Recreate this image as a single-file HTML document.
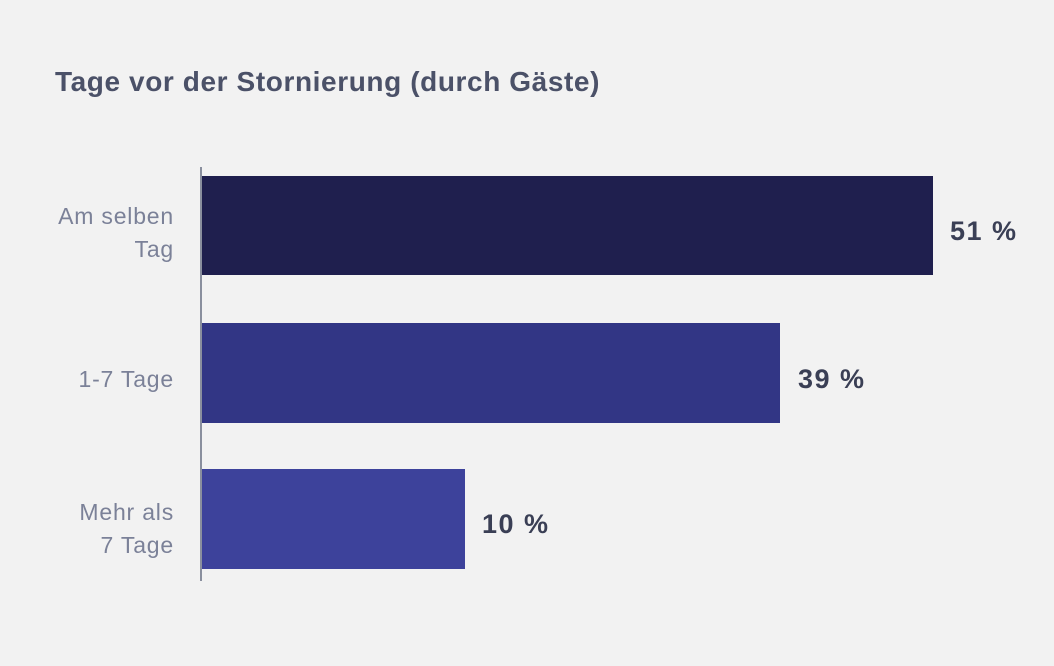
<!DOCTYPE html>
<html><head><meta charset="utf-8"><style>
html,body{margin:0;padding:0;}
body{width:1054px;height:666px;background:#f2f2f2;position:relative;overflow:hidden;font-family:"Liberation Sans",sans-serif;}
.t{position:absolute;left:55px;top:66px;font-size:28px;font-weight:bold;color:#4b5168;letter-spacing:0.6px;white-space:nowrap;}
.ax{position:absolute;left:200px;top:167px;width:2px;height:414px;background:#8a8f9e;}
.b{position:absolute;left:202px;}
.l{position:absolute;right:880px;text-align:right;font-size:23px;color:#7b8198;line-height:33px;letter-spacing:0.8px;white-space:nowrap;}
.v{position:absolute;font-size:27px;font-weight:bold;color:#3a3f55;letter-spacing:1.5px;white-space:nowrap;}
</style></head><body>
<div class="t">Tage vor der Stornierung (durch Gäste)</div>
<div class="ax"></div>
<div class="b" style="top:176px;width:731px;height:99px;background:#1f1f4e"></div>
<div class="b" style="top:323px;width:578px;height:100px;background:#323685"></div>
<div class="b" style="top:469px;width:263px;height:100px;background:#3d429b"></div>
<div class="l" style="top:200px">Am selben<br>Tag</div>
<div class="l" style="top:363px">1-7 Tage</div>
<div class="l" style="top:496px">Mehr als<br>7 Tage</div>
<div class="v" style="left:950px;top:216px">51 %</div>
<div class="v" style="left:798px;top:364px">39 %</div>
<div class="v" style="left:482px;top:509px">10 %</div>
</body></html>
